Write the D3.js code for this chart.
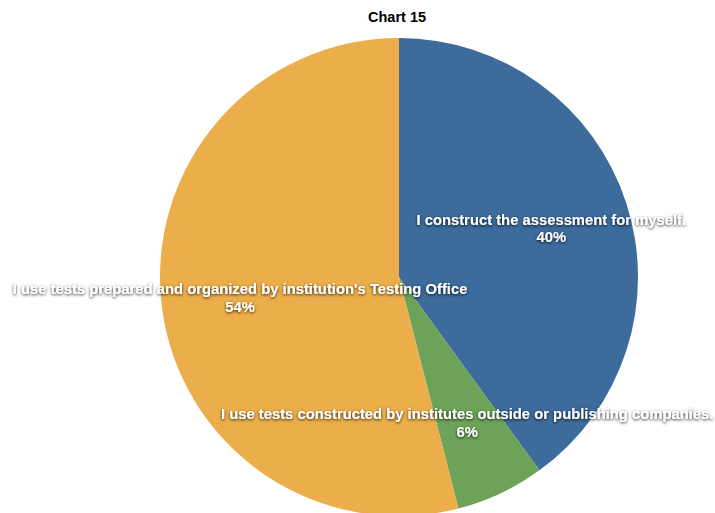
<!DOCTYPE html>
<html lang="en">
<head>
    <meta charset="UTF-8">
    <title>Chart 15</title>
    <script src="https://d3js.org/d3.v7.min.js"></script>
    <style>
        body { margin: 0; background: #fff; }
        .lbl {
            font-family: "Liberation Sans", Arial, sans-serif;
            font-weight: bold;
            font-size: 14.8px;
            fill: #fff;
            text-anchor: middle;
        }
    </style>
</head>
<body>
    <svg width="715" height="513"></svg>
    <script>
        const labels = [
            "I construct the assessment for myself.",
            "I use tests constructed by institutes outside or publishing companies.",
            "I use tests prepared and organized by institution's Testing Office"
        ];
        const values = [40, 6, 54];
        const colors = ["#3c6b9c", "#6ca358", "#ecae4a"];

        const svg = d3.select("svg");
        const cx = 399, cy = 277, r = 239;

        // soft dark shadow behind the white labels
        const defs = svg.append("defs");
        const f = defs.append("filter").attr("id", "shadow")
            .attr("x", "-10%").attr("y", "-50%").attr("width", "120%").attr("height", "200%");
        f.append("feDropShadow").attr("dx", 0).attr("dy", 1)
            .attr("stdDeviation", 1.5).attr("flood-color", "#000").attr("flood-opacity", 0.85);

        svg.append("text")
            .attr("x", cx - 2).attr("y", 22)
            .attr("text-anchor", "middle")
            .style("font-family", "'Liberation Sans', Arial, sans-serif")
            .style("font-weight", "bold")
            .style("font-size", "14.5px")
            .text("Chart 15");

        const pie = d3.pie().sort(null).value(d => d)(values);
        const arc = d3.arc().innerRadius(0).outerRadius(r);
        const labelArc = d3.arc().innerRadius(r * 0.67).outerRadius(r * 0.67);

        const g = svg.append("g").attr("transform", `translate(${cx},${cy})`);

        g.selectAll("path")
            .data(pie)
            .enter()
            .append("path")
            .attr("d", arc)
            .attr("fill", (d, i) => colors[i]);

        const total = d3.sum(values);
        const t = g.selectAll("text.lbl")
            .data(pie)
            .enter()
            .append("text")
            .attr("class", "lbl")
            .attr("filter", "url(#shadow)")
            .attr("transform", d => `translate(${labelArc.centroid(d)})`);

        t.append("tspan").attr("x", 0).attr("dy", "-0.2em").text((d, i) => labels[i]);
        t.append("tspan").attr("x", 0).attr("dy", "1.2em")
            .text(d => Math.round(d.value / total * 100) + "%");
    </script>
</body>
</html>
